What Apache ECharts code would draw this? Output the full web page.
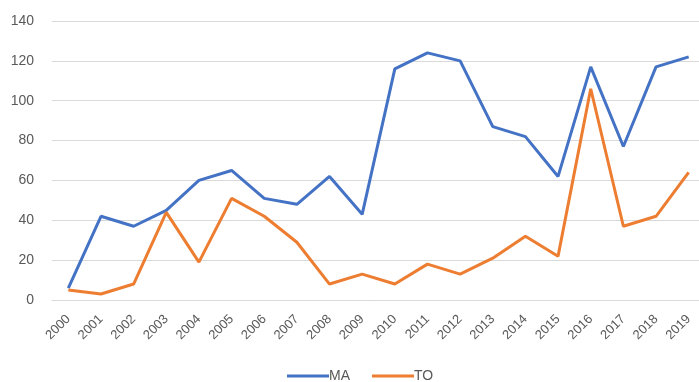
<!DOCTYPE html>
<html><head><meta charset="utf-8">
<script src="https://cdn.jsdelivr.net/npm/echarts@6/dist/echarts.min.js"></script>
<style>html,body{margin:0;padding:0;background:#fff}#c{width:699px;height:382px}</style>
</head><body><div id="c"></div>
<script>
const years = ['2000','2001','2002','2003','2004','2005','2006','2007','2008','2009','2010','2011','2012','2013','2014','2015','2016','2017','2018','2019'];
const maValues = [6,42,37,45,60,65,51,48,62,43,116,124,120,87,82,62,117,77,117,122];
const toValues = [5,3,8,44,19,51,42,29,8,13,8,18,13,21,32,22,106,37,42,64];
const yTicks = {min:0, max:140, interval:20};

const chart = echarts.init(document.getElementById('c'), null, {renderer:'canvas'});
chart.setOption({
  animation:false,
  backgroundColor:'#fff',
  grid:{left:52, width:653, top:21, height:279, containLabel:false, outerBoundsMode:'none'},
  legend:{
    top:364, left:282,
    itemWidth:42, itemHeight:3, itemGap:22,
    icon:'rect',
    textStyle:{color:'#595959', fontSize:14, fontFamily:'Liberation Sans, Arial, sans-serif', padding:[0,0,0,-5]},
    data:['MA','TO']
  },
  xAxis:{
    type:'category', data:years, boundaryGap:true,
    axisLine:{show:true, lineStyle:{color:'#d9d9d9', width:1}},
    axisTick:{show:false},
    axisLabel:{rotate:45, color:'#595959', fontSize:13, margin:17, interval:0, fontFamily:'Liberation Sans, Arial, sans-serif'}
  },
  yAxis:{
    type:'value', min:yTicks.min, max:yTicks.max, interval:yTicks.interval,
    axisLine:{show:false}, axisTick:{show:false},
    splitLine:{lineStyle:{color:'#d9d9d9', width:1}},
    axisLabel:{color:'#595959', fontSize:14, margin:18, fontFamily:'Liberation Sans, Arial, sans-serif'}
  },
  series:[
    {name:'MA', type:'line', data:maValues, symbol:'none', lineStyle:{color:'#4472C4', width:3}, itemStyle:{color:'#4472C4'}},
    {name:'TO', type:'line', data:toValues, symbol:'none', lineStyle:{color:'#ED7D31', width:3}, itemStyle:{color:'#ED7D31'}}
  ]
});
</script></body></html>
